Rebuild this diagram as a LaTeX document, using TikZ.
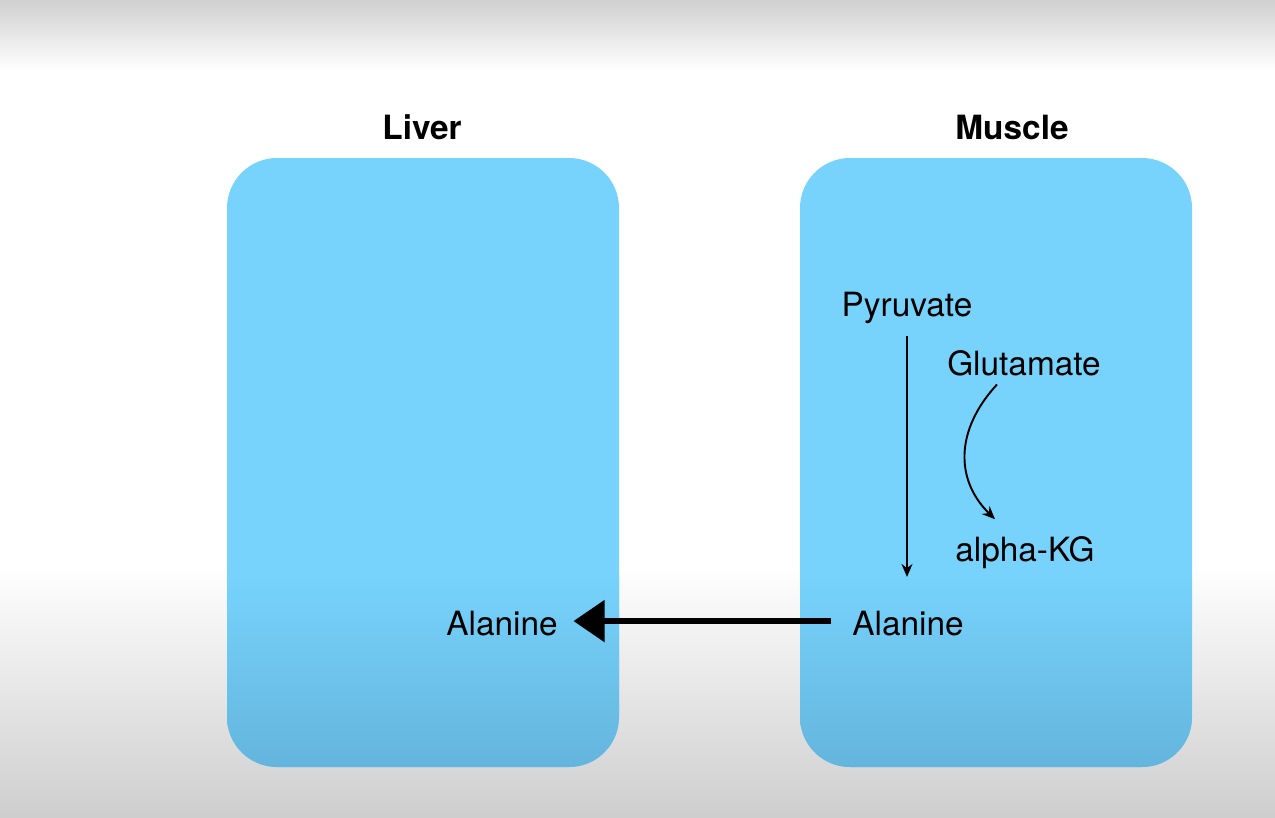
\documentclass[tikz,border=0pt]{standalone}
\usepackage{fontspec}
\setmainfont{TeX Gyre Heros}
\usetikzlibrary{positioning,arrows.meta}
\definecolor{cellblue}{HTML}{77D3FC}
\definecolor{celldeep}{HTML}{64B5DD}
\definecolor{fadegrey}{HTML}{D0D0D0}

\begin{document}
\begin{tikzpicture}[
    x=0.02cm, y=-0.02cm,
    font=\fontsize{19}{22}\selectfont,
    organ/.style={anchor=base, font=\fontsize{19}{22}\selectfont\bfseries},
    metab/.style={anchor=base, inner sep=2pt},
    cell/.style={fill=cellblue, rounded corners=1cm},
    flow/.style={-{Stealth[length=2.6mm, width=2.2mm]}, line width=1.1pt},
    export/.style={-{Triangle[length=6.2mm, width=8.2mm]}, line width=3pt},
]
% frame with faded top and bottom
\fill[white] (0,0) rectangle (1275,818);
\shade[top color=fadegrey, bottom color=white] (0,0) rectangle (1275,70);
\shade[top color=white, bottom color=fadegrey!105] (0,565) rectangle (1275,818);
\useasboundingbox (0,0) rectangle (1275,818);

% the two cells
\foreach \xa/\xb in {227/619, 800/1192} {
  \fill[cell] (\xa,158) rectangle (\xb,767);
  \begin{scope}
    \clip[rounded corners=1cm] (\xa,158) rectangle (\xb,767);
    \shade[top color=cellblue, bottom color=celldeep] (\xa,575) rectangle (\xb,767);
  \end{scope}
}

\node[organ] (liver) at (422,139) {Liver};
\node[organ] (muscle) at (1012,139) {Muscle};

\node[metab] (pyr) at (907,316) {Pyruvate};
\node[metab] (glu) at (1024,375) {Glutamate};
\node[metab] (akg) at (1025,561) {alpha-KG};
\node[metab] (alaM) at (908,635) {Alanine};
\node[metab] (alaL) at (502,635) {Alanine};

\draw[flow, shorten <=5pt, shorten >=17pt] (pyr.south) -- (pyr.south |- alaM.north);
\draw[flow] ([shift={(-27,5)}]glu.south) .. controls (955,430) and (955,480) .. ([shift={(-30,-13)}]akg.north);
\draw[export] ([shift={(-17,-2)}]alaM.west) -- ([shift={(12,-2)}]alaL.east);
\end{tikzpicture}
\end{document}
